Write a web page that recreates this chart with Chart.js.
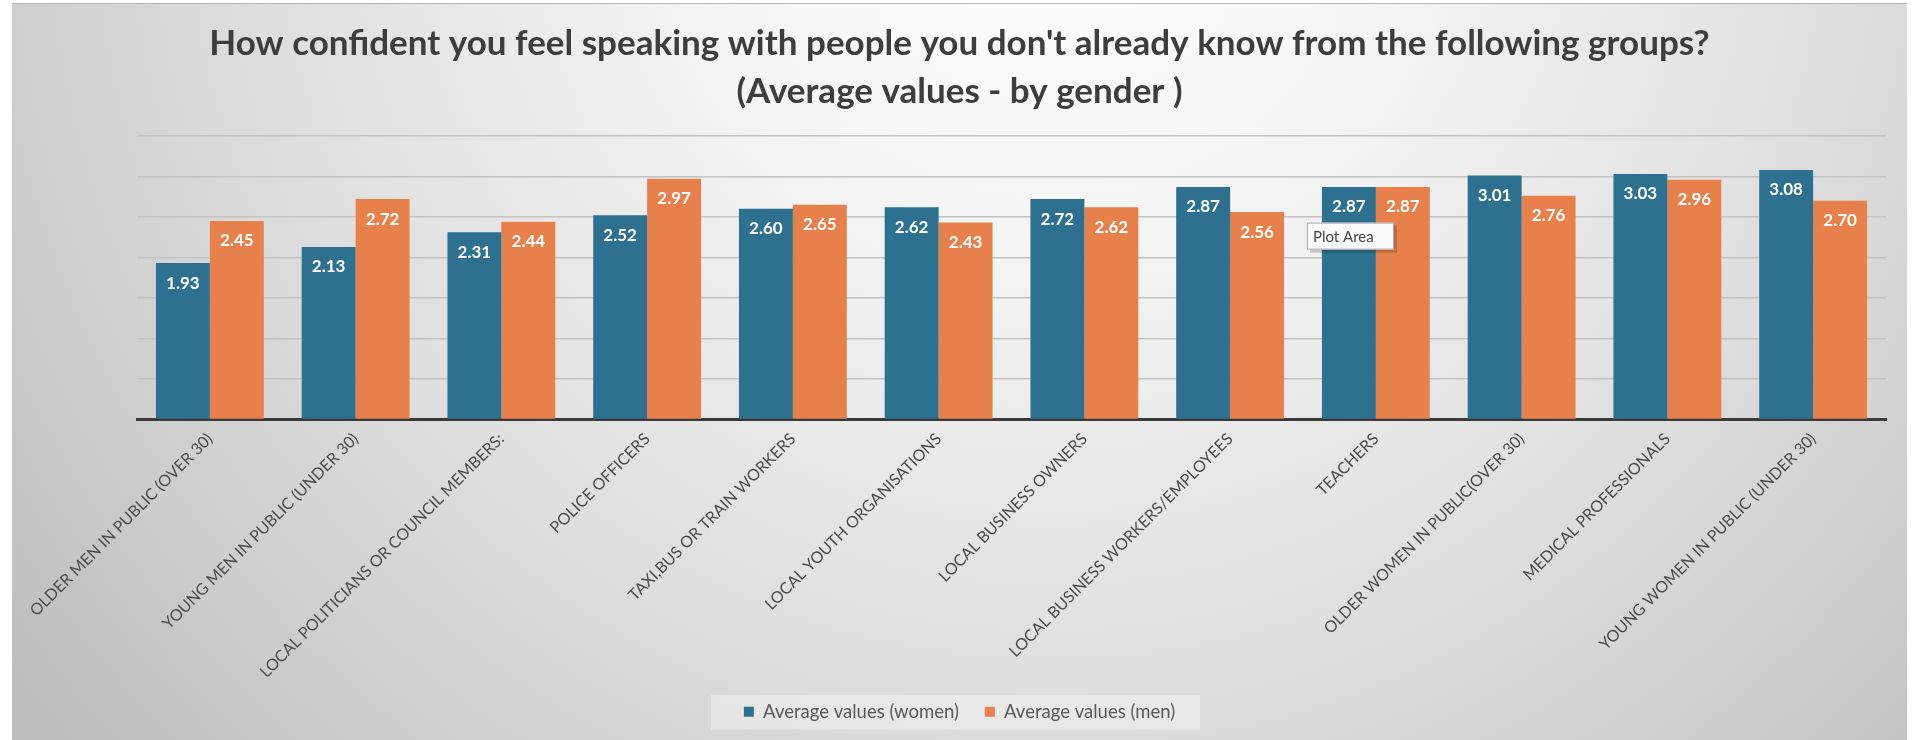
<!DOCTYPE html>
<html>
<head>
<meta charset="utf-8">
<title>Confidence speaking with strangers by gender</title>
<script src="https://cdn.jsdelivr.net/npm/chart.js"></script>
<style>
    html, body { margin: 0; padding: 0; background: #ffffff; overflow: hidden; }
    .chart-wrap {
        position: absolute;
        left: 12px;
        top: 3px;
        width: 1895px;
        height: 749px;
        border-top: 1px solid #b8b8b8;
    }
</style>
</head>
<body>
<div class="chart-wrap">
    <canvas id="barChart"></canvas>
</div>

<script>
    // groups asked about
    const groups = [
        'OLDER MEN IN PUBLIC (OVER 30)',
        'YOUNG MEN IN PUBLIC (UNDER 30)',
        'LOCAL POLITICIANS OR COUNCIL MEMBERS:',
        'POLICE OFFICERS',
        'TAXI,BUS OR TRAIN WORKERS',
        'LOCAL YOUTH ORGANISATIONS',
        'LOCAL BUSINESS OWNERS',
        'LOCAL BUSINESS WORKERS/EMPLOYEES',
        'TEACHERS',
        'OLDER WOMEN IN PUBLIC(OVER 30)',
        'MEDICAL PROFESSIONALS',
        'YOUNG WOMEN IN PUBLIC (UNDER 30)'
    ];

    // average answers
    const womenValues = [1.93, 2.13, 2.31, 2.52, 2.60, 2.62, 2.72, 2.87, 2.87, 3.01, 3.03, 3.08];
    const menValues = [2.45, 2.72, 2.44, 2.97, 2.65, 2.43, 2.62, 2.56, 2.87, 2.76, 2.96, 2.70];

    const seriesNames = ['Average values (women)', 'Average values (men)'];
    const titleLines = [
        "How confident you feel speaking with people you don't already know from the following groups?",
        '(Average values - by gender )'
    ];

    const BLUE = '#2e7090';
    const ORANGE = '#e7804a';

    // grey radial backdrop + lighter box behind the legend
    const backdrop = {
        id: 'backdrop',
        beforeDraw(chart) {
            const c = chart.ctx;
            const w = chart.width, h = chart.height;
            c.save();
            const g = c.createRadialGradient(1040, -120, 0, 1040, -120, 1300);
            g.addColorStop(0, '#ffffff');
            g.addColorStop(0.3, '#f3f3f3');
            g.addColorStop(0.62, '#dedede');
            g.addColorStop(0.85, '#cbcbcb');
            g.addColorStop(1, '#bdbdbd');
            c.fillStyle = g;
            c.fillRect(0, 0, w, h);

            const boxes = chart.legend.legendHitBoxes;
            if (boxes && boxes.length) {
                const first = boxes[0], last = boxes[boxes.length - 1];
                const mid = first.top + first.height / 2;
                c.fillStyle = 'rgba(255,255,255,0.35)';
                c.fillRect(first.left - 33, mid - 17, last.left + last.width - first.left + 58, 35);
            }
            c.restore();
        }
    };

    // value labels inside the top of each bar
    const valueLabels = {
        id: 'valueLabels',
        afterDatasetsDraw(chart) {
            const c = chart.ctx;
            c.save();
            c.font = 'bold 17px Lato';
            c.fillStyle = '#ffffff';
            c.textAlign = 'center';
            c.textBaseline = 'middle';
            chart.data.datasets.forEach((ds, i) => {
                chart.getDatasetMeta(i).data.forEach((bar, j) => {
                    c.fillText(ds.data[j].toFixed(2), bar.x, bar.y + 20);
                });
            });
            c.restore();
        }
    };

    // the little hover box sitting on the teachers bars
    const hoverNote = {
        id: 'hoverNote',
        afterDraw(chart) {
            const c = chart.ctx;
            const bar = chart.getDatasetMeta(0).data[8];
            const x = bar.x - bar.width / 2 - 15;
            const y = chart.scales.y.getPixelForValue(2.43);
            const w = 87, h = 27;
            c.save();
            c.fillStyle = 'rgba(0,0,0,0.18)';
            c.fillRect(x + 3, y + 3, w, h);
            c.fillStyle = '#fbfbfb';
            c.fillRect(x, y, w, h);
            c.strokeStyle = '#a8a8a8';
            c.lineWidth = 1;
            c.strokeRect(x + 0.5, y + 0.5, w - 1, h - 1);
            c.font = '15px Lato';
            c.fillStyle = '#444444';
            c.textAlign = 'left';
            c.textBaseline = 'middle';
            c.fillText('Plot Area', x + 6, y + h / 2 + 1);
            c.restore();
        }
    };

    function renderChart() {
        const ctx = document.getElementById('barChart').getContext('2d');
        new Chart(ctx, {
            type: 'bar',
            data: {
                labels: groups,
                datasets: [{
                    label: seriesNames[0],
                    data: womenValues,
                    backgroundColor: BLUE
                }, {
                    label: seriesNames[1],
                    data: menValues,
                    backgroundColor: ORANGE
                }]
            },
            options: {
                responsive: true,
                maintainAspectRatio: false,
                animation: false,
                events: [],
                layout: {
                    padding: { left: 21, right: 21, top: 0, bottom: 22 }
                },
                datasets: {
                    bar: {
                        barPercentage: 1.0,
                        categoryPercentage: 0.74
                    }
                },
                plugins: {
                    title: {
                        display: true,
                        text: titleLines,
                        color: '#3d3d3d',
                        font: { family: 'Lato', weight: 'bold', size: 35, lineHeight: 1.37 },
                        padding: { top: 16, bottom: 20 }
                    },
                    legend: {
                        position: 'bottom',
                        labels: {
                            boxWidth: 10,
                            boxHeight: 10,
                            padding: 26,
                            color: '#595959',
                            font: { family: 'Lato', size: 18.5 }
                        }
                    },
                    tooltip: { enabled: false }
                },
                scales: {
                    x: {
                        grid: { display: false },
                        border: { display: true, color: '#3a3a3a', width: 3 },
                        ticks: {
                            autoSkip: false,
                            minRotation: 45,
                            maxRotation: 45,
                            padding: 2,
                            color: '#4a4a4a',
                            font: { family: 'Lato', size: 16 }
                        },
                        afterFit(scale) {
                            scale.height = 257;
                        }
                    },
                    y: {
                        min: 0,
                        max: 3.5,
                        ticks: { display: false, stepSize: 0.5 },
                        border: { display: false },
                        grid: { color: '#c2c2c2', lineWidth: 1.5, drawTicks: false },
                        afterFit(scale) {
                            scale.width = 104;
                        }
                    }
                }
            },
            plugins: [backdrop, valueLabels, hoverNote]
        });
    }

    Promise.all([
        document.fonts.load('bold 35px Lato'),
        document.fonts.load('16px Lato')
    ]).then(renderChart, renderChart);
</script>
</body>
</html>
